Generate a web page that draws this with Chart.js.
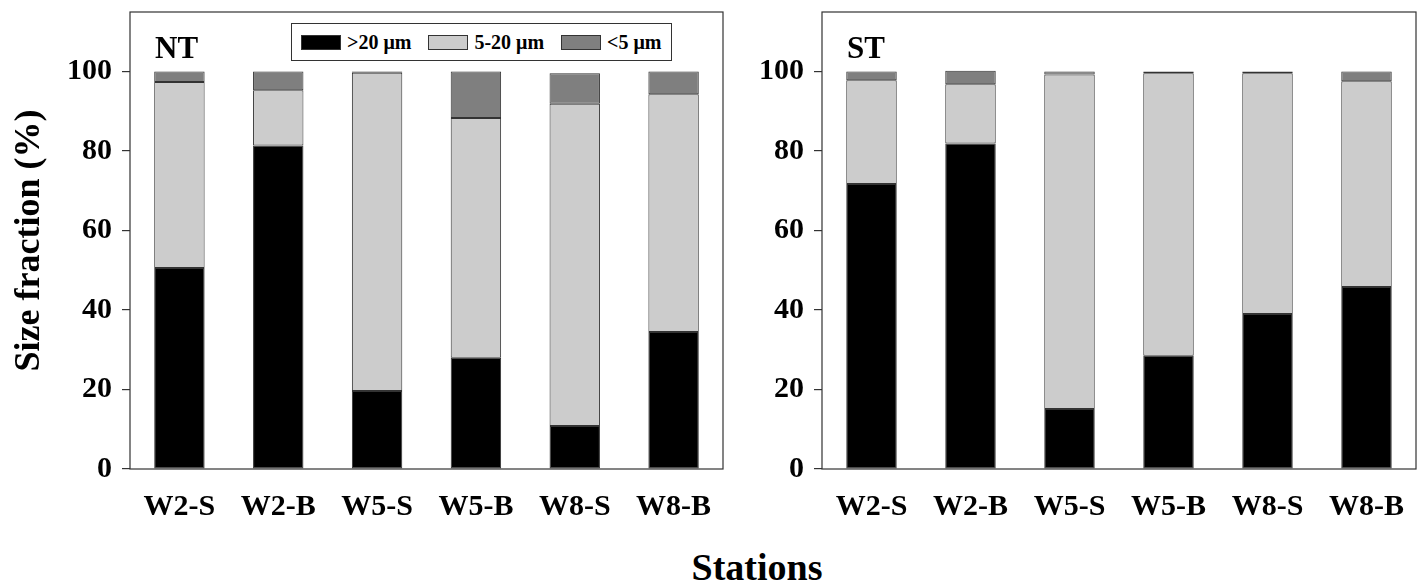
<!DOCTYPE html>
<html lang="en">
<head>
    <meta charset="UTF-8">
    <title>Size fraction by station</title>
    <script src="https://cdn.jsdelivr.net/npm/chart.js"></script>
    <style>
        body {
            margin: 0;
            background: #ffffff;
            font-family: "Liberation Serif", "Times New Roman", serif;
            font-weight: bold;
            color: #000;
        }
        .wrap {
            position: relative;
            width: 1423px;
            height: 584px;
            overflow: hidden;
        }
        canvas {
            position: absolute;
            top: 0;
        }
        #ntChart { left: 0; }
        #stChart { left: 730px; }
        .panel-label {
            position: absolute;
            font-size: 31px;
            line-height: 1;
        }
        .legend {
            position: absolute;
            left: 291px;
            top: 23px;
            width: 381px;
            height: 38px;
            border: 1px solid #333;
            background: #fff;
            box-sizing: border-box;
            display: flex;
            align-items: center;
            white-space: nowrap;
            font-size: 20px;
            padding-left: 9px;
        }
        .legend .item {
            display: flex;
            align-items: center;
            flex-shrink: 0;
        }
        .legend .swatch {
            width: 40px;
            height: 15px;
            border: 1px solid #333;
            box-sizing: border-box;
            margin-right: 6px;
        }
        .x-title {
            position: absolute;
            top: 548px;
            left: 607px;
            width: 300px;
            text-align: center;
            font-size: 38px;
            line-height: 1;
        }
    </style>
</head>
<body>
    <div class="wrap">
        <canvas id="ntChart" width="730" height="520"></canvas>
        <canvas id="stChart" width="693" height="520"></canvas>
        <div class="panel-label" style="left:155px; top:32px;">NT</div>
        <div class="panel-label" style="left:847px; top:32px;">ST</div>
        <div class="legend" id="legend"></div>
        <div class="x-title">Stations</div>
    </div>

    <script>
        // Data (percent of total)
        const stations = ['W2-S', 'W2-B', 'W5-S', 'W5-B', 'W8-S', 'W8-B'];
        const yTicks = [0, 20, 40, 60, 80, 100];
        const sizeClasses = ['>20 μm', '5-20 μm', '<5 μm'];
        const classColors = ['#000000', '#cccccc', '#7f7f7f'];

        const ntLarge = [50.6, 81.4, 19.6, 28.0, 10.8, 34.5];
        const ntMedium = [46.8, 13.9, 80.1, 60.3, 81.1, 59.8];
        const ntSmall = [2.6, 4.7, 0.3, 11.7, 7.7, 5.7];

        const stLarge = [71.7, 81.9, 15.1, 28.5, 39.0, 45.8];
        const stMedium = [26.1, 14.9, 84.2, 71.1, 60.6, 51.8];
        const stSmall = [2.2, 3.4, 0.7, 0.4, 0.4, 2.4];

        const fontFamily = '"Liberation Serif", "Times New Roman", serif';

        // Draw the box around the plot area
        const frame = {
            id: 'frame',
            afterDraw(chart) {
                const a = chart.chartArea;
                const ctx = chart.ctx;
                ctx.save();
                ctx.strokeStyle = '#333';
                ctx.lineWidth = 1.2;
                ctx.strokeRect(a.left, a.top, a.right - a.left, a.bottom - a.top);
                ctx.restore();
            }
        };

        function makeChart(id, series, yWidth, showTitle) {
            const datasets = series.map((values, i) => ({
                label: sizeClasses[i],
                data: values,
                backgroundColor: classColors[i],
                borderColor: '#333',
                borderWidth: 1,
                borderSkipped: false,
                barPercentage: 0.51,
                categoryPercentage: 1.0
            }));

            return new Chart(document.getElementById(id), {
                type: 'bar',
                data: { labels: stations, datasets: datasets },
                options: {
                    responsive: false,
                    animation: false,
                    layout: { padding: { top: 12, right: 7, left: 0, bottom: 0 } },
                    plugins: {
                        legend: { display: false },
                        tooltip: { enabled: false }
                    },
                    scales: {
                        x: {
                            stacked: true,
                            grid: { display: false },
                            border: { display: false },
                            ticks: {
                                color: '#000',
                                padding: 12,
                                font: { family: fontFamily, size: 30, weight: 'bold' }
                            },
                            afterFit(scale) {
                                scale.height = 51;
                                scale.paddingLeft = 0;
                                scale.paddingRight = 0;
                            }
                        },
                        y: {
                            stacked: true,
                            min: 0,
                            max: 115,
                            grid: {
                                drawOnChartArea: false,
                                drawTicks: true,
                                tickLength: 8,
                                color: '#333',
                                lineWidth: 1.2
                            },
                            border: { display: false },
                            ticks: {
                                color: '#000',
                                padding: 10,
                                font: { family: fontFamily, size: 30, weight: 'bold' }
                            },
                            afterBuildTicks(scale) {
                                scale.ticks = yTicks.map(v => ({ value: v }));
                            },
                            title: {
                                display: showTitle,
                                text: 'Size fraction (%)',
                                color: '#000',
                                padding: { top: 8, bottom: 0 },
                                font: { family: fontFamily, size: 36, weight: 'bold' }
                            },
                            afterFit(scale) {
                                scale.width = yWidth;
                                scale.paddingTop = 0;
                                scale.paddingBottom = 0;
                            }
                        }
                    }
                },
                plugins: [frame]
            });
        }

        makeChart('ntChart', [ntLarge, ntMedium, ntSmall], 130, true);
        makeChart('stChart', [stLarge, stMedium, stSmall], 92, false);

        // Legend sits inside the NT panel
        const legend = document.getElementById('legend');
        sizeClasses.forEach((name, i) => {
            const item = document.createElement('div');
            item.className = 'item';
            if (i > 0) item.style.marginLeft = '17px';
            item.innerHTML = '<span class="swatch" style="background:' + classColors[i] + '"></span><span>' + name + '</span>';
            legend.appendChild(item);
        });
    </script>
</body>
</html>
